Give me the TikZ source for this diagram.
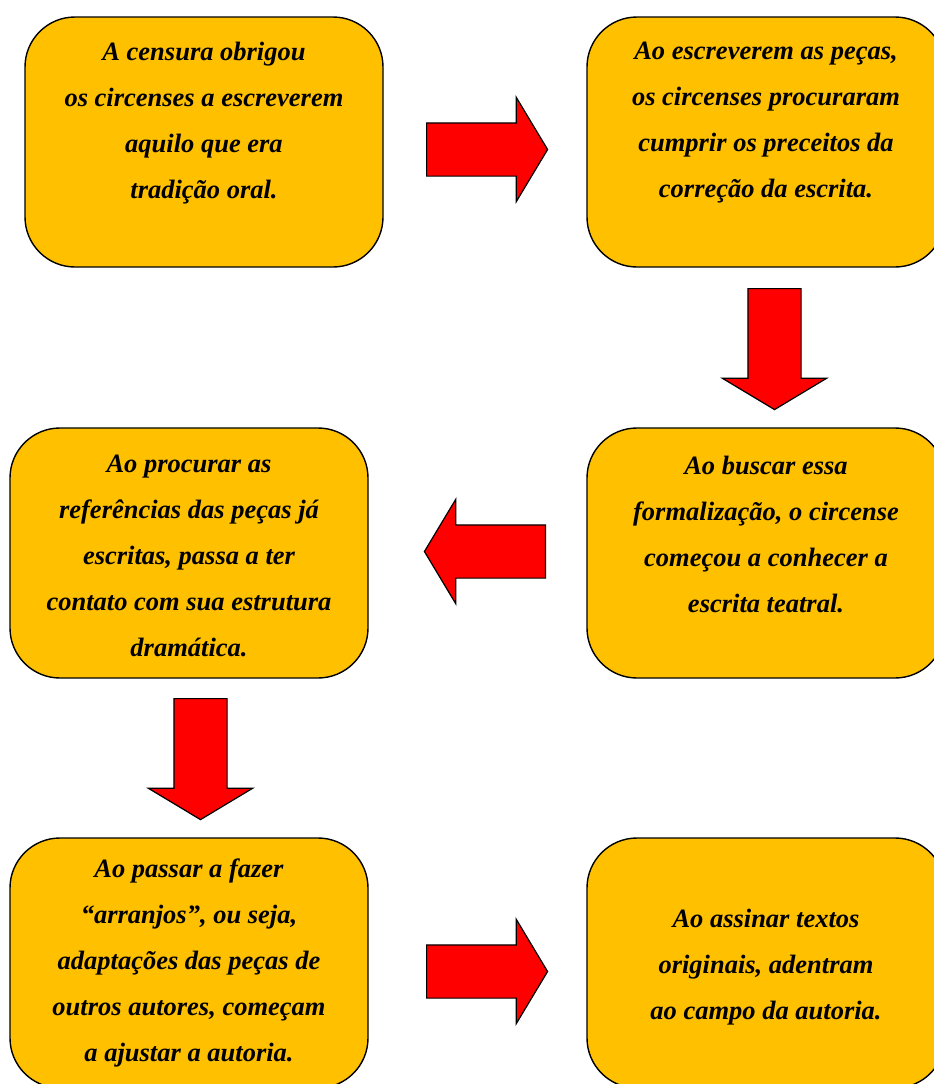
\documentclass[tikz,border=0pt]{standalone}
\usepackage{fontspec}
\setmainfont{Liberation Serif}
\usetikzlibrary{shapes.arrows}
\definecolor{boxorange}{HTML}{FFC000}
\definecolor{arrowred}{HTML}{FF0000}
\tikzset{
  stepbox/.style={draw=black, line width=1.4pt, fill=boxorange, rounded corners=50pt,
    minimum width=358pt, minimum height=250pt, inner sep=0pt},
  steptext/.style={align=center, inner sep=0pt,
    font=\fontsize{26.5}{46}\selectfont\bfseries\itshape},
  blockarrow/.style={single arrow, draw=black, line width=1.2pt, fill=arrowred,
    minimum height=121pt, inner xsep=0pt, inner ysep=26pt, anchor=tail,
    single arrow head extend=25.5pt, single arrow tip angle=118}
}
\begin{document}
\begin{tikzpicture}[x=1pt, y=-1pt]
    % Page frame
    \useasboundingbox (0,0) rectangle (934,1084);
    \clip (0,0) rectangle (934,1084);
    % Boxes
    \node [stepbox] (censura) at (204, 142) {};
    \node [stepbox] (escrita) at (766, 142) {};
    \node [stepbox] (formal) at (766, 553) {};
    \node [stepbox] (referencia) at (189, 553) {};
    \node [stepbox] (arranjo) at (189, 963) {};
    \node [stepbox] (autoria) at (766, 963) {};
    % Texts
    \node [steptext, yshift=19pt] (tcensura) at (censura) {A censura obrigou\\os circenses a escreverem\\aquilo que era\\tradição oral.};
    \node [steptext, yshift=19pt] (tescrita) at (escrita) {Ao escreverem as peças,\\os circenses procuraram\\cumprir os preceitos da\\correção da escrita.};
    \node [steptext, yshift=19pt] (tformal) at (formal) {Ao buscar essa\\formalização, o circense\\começou a conhecer a\\escrita teatral.};
    \node [steptext, yshift=-3pt] (treferencia) at (referencia) {Ao procurar as\\referências das peças já\\escritas, passa a ter\\contato com sua estrutura\\dramática.};
    \node [steptext] (tarranjo) at (arranjo) {Ao passar a fazer\\“arranjos”, ou seja,\\adaptações das peças de\\outros autores, começam\\a ajustar a autoria.};
    \node [steptext, yshift=-4pt] (tautoria) at (autoria) {Ao assinar textos\\originais, adentram\\ao campo da autoria.};
    % Arrows
    \node [blockarrow] (arrowa) at (426, 149.5) {};
    \node [blockarrow, rotate=-90] (arrowb) at (774.5, 288) {};
    \node [blockarrow, rotate=180] (arrowc) at (546, 551.5) {};
    \node [blockarrow, rotate=-90] (arrowd) at (200.5, 698) {};
    \node [blockarrow] (arrowe) at (426, 971.5) {};
\end{tikzpicture}
\end{document}
